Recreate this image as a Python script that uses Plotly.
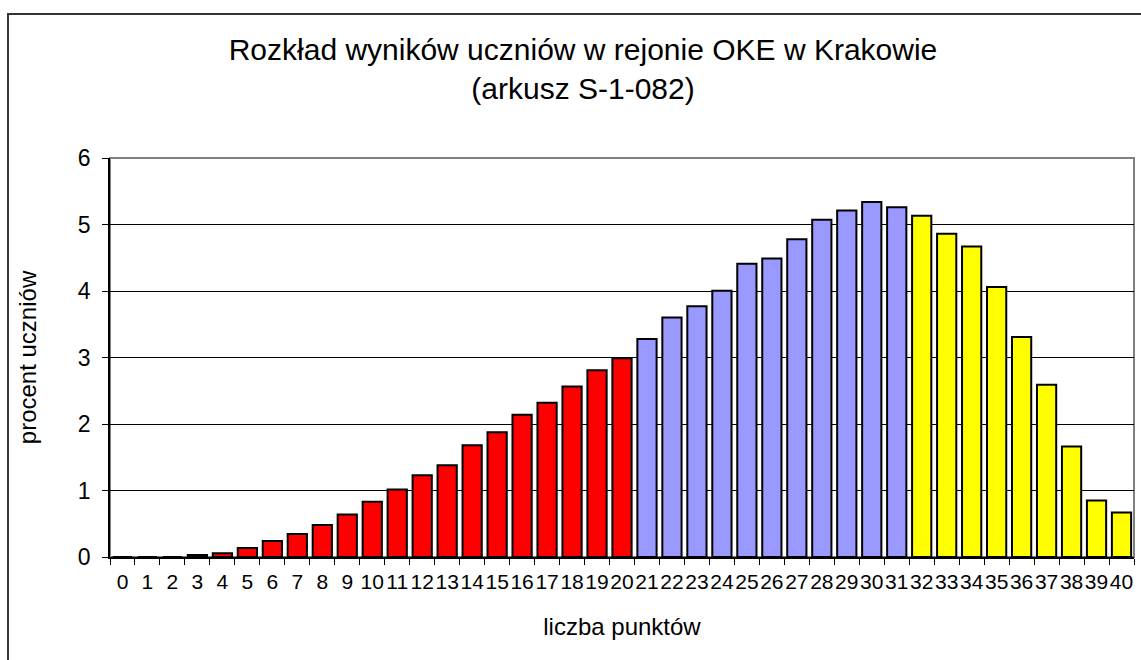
import plotly.graph_objects as go

# Data
points = [str(i) for i in range(41)]
percent = [0, 0, 0, 0.03, 0.055, 0.135, 0.24, 0.345, 0.48, 0.64,
           0.83, 1.015, 1.23, 1.38, 1.68, 1.875, 2.14, 2.32, 2.565, 2.81,
           2.99, 3.28, 3.60, 3.77, 4.005, 4.41, 4.49, 4.78, 5.07, 5.21,
           5.34, 5.26, 5.13, 4.86, 4.67, 4.06, 3.31, 2.59, 1.66, 0.85, 0.67]
group_colors = ['#FF0000'] * 21 + ['#9999FF'] * 11 + ['#FFFF00'] * 9

W, H = 1141, 660
ml, mr, mt, mb = 110, 7, 158, 103
pw, ph = W - ml - mr, H - mt - mb

fig = go.Figure()

fig.add_trace(go.Bar(
    x=points, y=percent,
    marker=dict(color=group_colors, line=dict(color='black', width=2)),
    showlegend=False,
))

# outer chart frame (extends past the visible area like in the reference)
fig.add_shape(type='rect', xref='paper', yref='paper',
              x0=(8 - ml) / pw, x1=1.2, y0=-0.6, y1=(H - mb - 14) / ph,
              line=dict(color='#333333', width=2), fillcolor='rgba(0,0,0,0)',
              layer='below')
# plot area border (gray)
fig.add_shape(type='rect', xref='paper', yref='paper',
              x0=0, x1=1, y0=0, y1=1,
              line=dict(color='#808080', width=2), fillcolor='rgba(0,0,0,0)',
              layer='below')

fig.update_layout(
    width=W, height=H,
    margin=dict(l=ml, r=mr, t=mt, b=mb),
    paper_bgcolor='white', plot_bgcolor='white',
    font=dict(family='Liberation Sans, Arial', color='black'),
    title=dict(text='Rozkład wyników uczniów w rejonie OKE w Krakowie<br>(arkusz S-1-082)',
               x=583 / W, xanchor='center', y=1 - 60 / H, yanchor='middle',
               font=dict(size=30)),
    bargap=0.23,
    xaxis=dict(
        type='category', showgrid=False,
        showline=True, linecolor='black', linewidth=1.5,
        ticks='outside', tickson='boundaries', ticklen=6, tickcolor='black',
        tickmode='array', tickvals=points, ticktext=points,
        tickfont=dict(size=21), tickangle=0, ticklabelstandoff=5,
        title=dict(text='liczba punktów', font=dict(size=24), standoff=26),
    ),
    yaxis=dict(
        range=[0, 6], dtick=1,
        showgrid=True, gridcolor='black', gridwidth=1,
        showline=True, linecolor='black', linewidth=1.5,
        ticks='outside', ticklen=6, tickcolor='black',
        tickfont=dict(size=23), ticklabelstandoff=7,
        title=dict(text='procent uczniów', font=dict(size=24), standoff=34),
        zeroline=False,
    ),
)

fig.write_html('out.html', config={'displayModeBar': False},
               post_script="document.body.style.margin='0';")
